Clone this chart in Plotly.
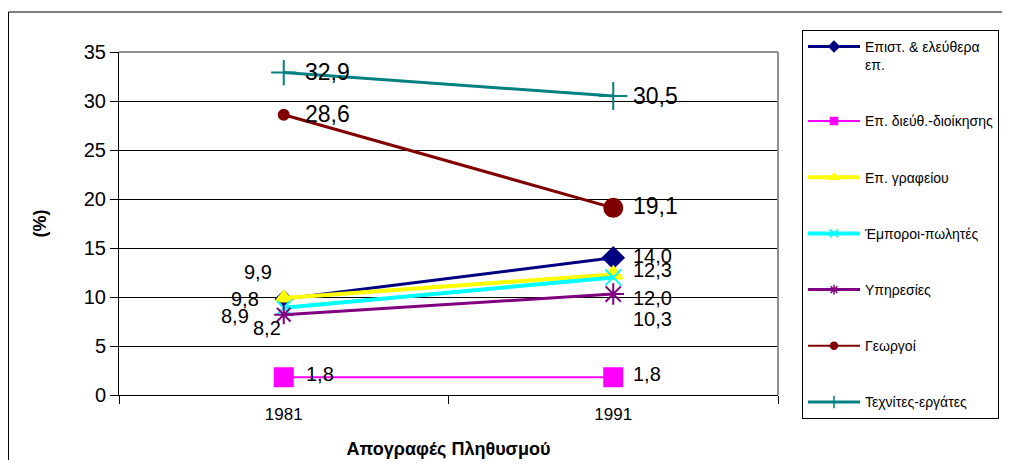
import plotly.graph_objects as go

FONT = "Arial, 'Liberation Sans', sans-serif"

years = ["1981", "1991"]

series_names = [
    "Επιστ. & ελεύθερα<br>επ.",
    "Επ. διεύθ.-διοίκησης",
    "Επ. γραφείου",
    "Έμποροι-πωλητές",
    "Υπηρεσίες",
    "Γεωργοί",
    "Τεχνίτες-εργάτες",
]
epist = [9.8, 14.0]
dieuth = [1.8, 1.8]
grafeiou = [9.9, 12.3]
emporoi = [8.9, 12.0]
ypiresies = [8.2, 10.3]
georgoi = [28.6, 19.1]
technites = [32.9, 30.5]
values = [epist, dieuth, grafeiou, emporoi, ypiresies, georgoi, technites]

# styles per series: colour, line width, marker symbol, marker sizes, label font size
STYLES = [
    dict(color="#000080", width=3, symbol="diamond", size=[12, 16], lsize=8, fs=20),
    dict(color="#FF00FF", width=2, symbol="square", size=[18, 18], lsize=7, fs=20),
    dict(color="#FFFF00", width=4, symbol="triangle-up", size=[14, 16], lsize=8, fs=20),
    dict(color="#00FFFF", width=4, symbol="x-thin-open", size=[14, 16], lsize=8, fs=20),
    dict(color="#800080", width=3, symbol="asterisk-open", size=[16, 18], lsize=8, fs=20),
    dict(color="#800000", width=2, symbol="circle", size=[10, 18], lsize=7, fs=23),
    dict(color="#008080", width=3, symbol="cross-thin-open", size=[18, 20], lsize=9, fs=23),
]
# label placement (xanchor, xshift, yshift) for 1981 / 1991
LABEL_POS = [
    [("right", -23, 0), ("left", 18, 2)],
    [("left", 20, 3), ("left", 18, 3)],
    [("right", -10, 26), ("left", 18, 4)],
    [("right", -33, -8), ("left", 18, -21)],
    [("right", -1, -13), ("left", 18, -25)],
    [("left", 19, 1), ("left", 18, 2)],
    [("left", 19, 1), ("left", 18, 0)],
]

W, H = 994, 452  # page has an 8px body margin inside the 1010x468 window

fig = go.Figure()
for name, vals, st, pos in zip(series_names, values, STYLES, LABEL_POS):
    lw = st["width"] + (1 if name == "Γεωργοί" else 0)
    fig.add_trace(go.Scatter(
        x=years, y=vals, name=name, mode="lines+markers", showlegend=False,
        line=dict(color=st["color"], width=lw),
        marker=dict(symbol=st["symbol"], size=st["size"], color=st["color"], opacity=1,
                    line=dict(color=st["color"], width=2)),
        legendgroup=name,
    ))
    # legend entry with small marker, like the original
    fig.add_trace(go.Scatter(
        x=[None], y=[None], name=name, mode="lines+markers",
        line=dict(color=st["color"], width=st["width"]),
        marker=dict(symbol=st["symbol"], size=st["lsize"], color=st["color"],
                    line=dict(color=st["color"], width=1.5)),
        legendgroup=name,
    ))
    for i, v in enumerate(vals):
        anchor, dx, dy = pos[i]
        fig.add_annotation(
            x=i, y=v, text=f"{v:.1f}".replace(".", ","), showarrow=False,
            xanchor=anchor, yanchor="middle", xshift=dx, yshift=dy,
            font=dict(size=st["fs"], color="black", family=FONT),
        )

# outer chart border and plot-area border (top / right in grey)
fig.add_shape(type="rect", xref="paper", yref="paper",
              x0=-110.5 / 659, x1=2, y0=-1, y1=383 / 343,
              line=dict(color="black", width=1), layer="below")
fig.add_shape(type="line", xref="paper", yref="paper", x0=0, x1=1, y0=1, y1=1,
              line=dict(color="#909090", width=2))
fig.add_shape(type="line", xref="paper", yref="paper", x0=1, x1=1, y0=0, y1=1,
              line=dict(color="#909090", width=2))

fig.update_layout(
    width=W, height=H, autosize=False,
    paper_bgcolor="white", plot_bgcolor="white",
    margin=dict(l=111, r=224, t=44, b=65),
    font=dict(family=FONT, color="black"),
    showlegend=True,
    legend=dict(
        xref="container", yref="container",
        x=794 / W, y=(H - 22) / H, xanchor="left", yanchor="top",
        bordercolor="black", borderwidth=1, bgcolor="white",
        font=dict(size=14, family=FONT), valign="top",
        tracegroupgap=35, itemwidth=52, maxheight=440,
    ),
    xaxis=dict(
        type="category", range=[-0.5, 1.5], tickson="boundaries", automargin=False,
        ticks="outside", ticklen=8, tickcolor="black", ticklabelstandoff=4,
        showline=True, linecolor="black", linewidth=1,
        showgrid=False, tickfont=dict(size=17),
        title=dict(text="<b>Απογραφές Πληθυσμού</b>", font=dict(size=18), standoff=18),
    ),
    yaxis=dict(
        range=[0, 35], dtick=5, ticks="outside", ticklen=8, tickcolor="black",
        automargin=False,
        showline=True, linecolor="black", linewidth=1,
        showgrid=True, gridcolor="black", gridwidth=1, zeroline=False,
        tickfont=dict(size=20),
        title=dict(text="<b>(%)</b>", font=dict(size=18), standoff=32),
    ),
)

fig.write_html("out.html")
